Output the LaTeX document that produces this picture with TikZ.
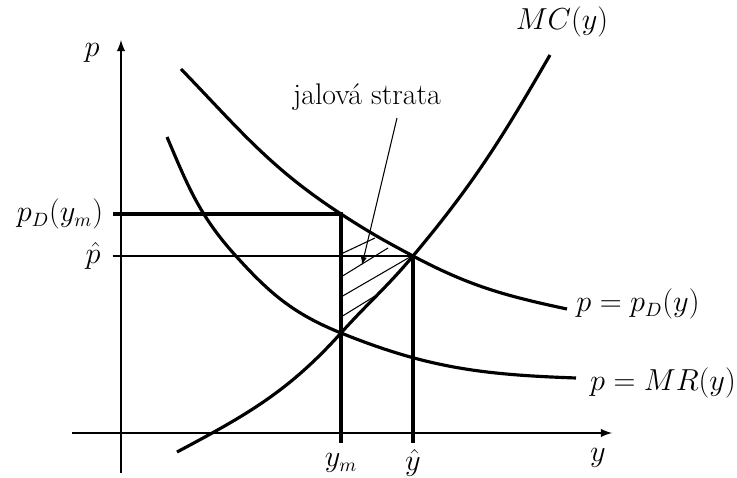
\documentclass[tikz,border=0pt]{standalone}
\usetikzlibrary{arrows}
\begin{document}
\begin{tikzpicture} [>=latex, font=\fontsize{16}{19}\selectfont]
	\useasboundingbox (-2.42,-0.9) rectangle (12.32,8.66);
	% axes
	\draw [->, line width = 1.2pt] (-0.98,0) -- (9.82,0);
	\draw [->, line width = 1.2pt] (0,-0.8) -- (0,7.86);
	\node (y) at (9.54,-0.5) {$y$};
	\node (p) at (-0.58,7.6) {$p$};
	% demand, marginal revenue, marginal cost
	\draw [line width = 1.8pt] (1.2,7.28) to [out = -46, in = 147] (4.4,4.38) to [out = -33, in = 152] (5.84,3.54) to [out = -28, in = 168] (8.92,2.48);
	\draw [line width = 1.8pt] (0.92,5.92) to [out = -67, in = 132] (2.28,3.56) to [out = -48, in = 158] (4.4,2.0) to [out = -22, in = 178] (9.1,1.1);
	\draw [line width = 1.8pt] (1.12,-0.38) to [out = 28, in = -132] (4.4,2.0) to [out = 48, in = -130] (5.84,3.54) to [out = 50, in = -120] (8.58,7.56);
	\node (mc) at (8.82,8.22) {$MC(y)$};
	\node (pd) at (10.34,2.58) {$p = p_D(y)$};
	\node (mr) at (10.84,1.0) {$p = MR(y)$};
	% monopoly and optimum
	\draw [line width = 1.8pt] (-0.16,4.38) -- (4.4,4.38) -- (4.4,-0.2);
	\draw [line width = 1.1pt] (-0.16,3.54) -- (5.84,3.54);
	\draw [line width = 1.8pt] (5.84,3.54) -- (5.84,-0.2);
	\node [inner sep = 1pt] (pdym) at (-1.22,4.38) {$p_D(y_m)$};
	\node [inner sep = 1pt] (phat) at (-0.56,3.54) {$\hat p$};
	\node (ym) at (4.4,-0.6) {$y_m$};
	\node (yhat) at (5.84,-0.6) {$\hat y$};
	% deadweight loss
	\draw [line width = 0.6pt] (4.4,3.58) -- (5.08,3.9);
	\draw [line width = 0.6pt] (4.4,3.12) -- (5.34,3.7);
	\draw [line width = 0.6pt] (4.4,2.72) -- (5.78,3.52);
	\draw [line width = 0.6pt] (4.4,2.32) -- (5.18,2.8);
	\node (loss) at (4.92,6.72) {\fontsize{17}{20}\selectfont jalová strata};
	\coordinate (tip) at (4.82,3.36);
	\draw [->, line width = 0.6pt] (5.52,6.3) -- (tip);
\end{tikzpicture}
\end{document}
